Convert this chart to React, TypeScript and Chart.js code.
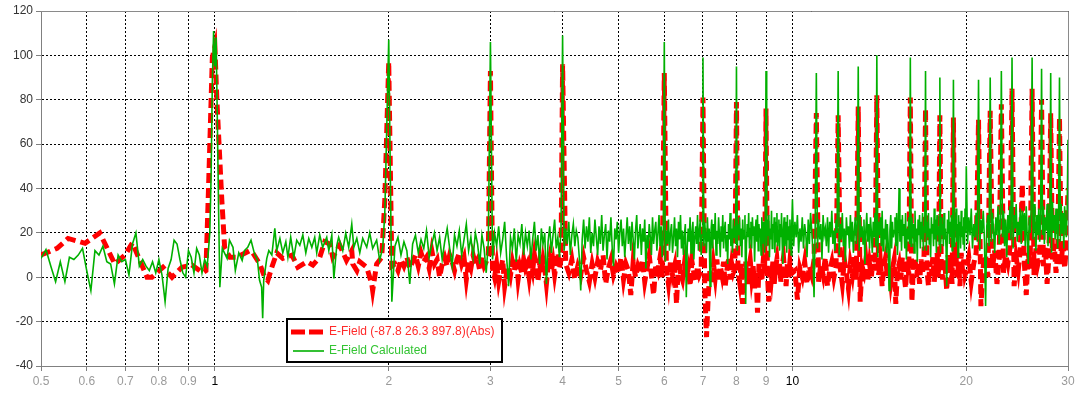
import React, { useEffect, useRef } from "react";
import { Chart, registerables } from "chart.js";

Chart.register(...registerables);

// ---------- axis ticks ----------
const xTickValues = [0.5, 0.6, 0.7, 0.8, 0.9, 1, 2, 3, 4, 5, 6, 7, 8, 9, 10, 20, 30];
const xStrongTicks = [1, 10];
const yMin = -40;
const yMax = 120;
const yStep = 20;

const seriesNames = ["E-Field (-87.8 26.3 897.8)(Abs)", "E-Field Calculated"];

// ---------- measured E-Field (red), 0.5 .. 2 ----------
const redLoFreq = [
  0.5, 0.533, 0.557, 0.596, 0.632, 0.671, 0.699, 0.72, 0.763, 0.778,
  0.813, 0.843, 0.877, 0.912, 0.953, 0.965, 0.975, 0.99, 1.0, 1.008,
  1.028, 1.04, 1.062, 1.092, 1.15, 1.163, 1.196, 1.22, 1.235, 1.255,
  1.28, 1.311, 1.36, 1.392, 1.443, 1.478, 1.519, 1.55, 1.58, 1.6,
  1.645, 1.69, 1.726, 1.733, 1.761, 1.782, 1.832, 1.869, 1.876, 1.906,
  1.945, 1.969,
];
const redLo = [
  10, 13, 17.5, 15.3, 20, 6, 10, 15.5, 0, 0,
  4.5, 0, 4.5, 5.5, 2, 3, 40, 99, 104, 80,
  35, 13, 9, 9, 12, 11, 6, 0, -1.5, 4.5,
  11, 8.5, 10, 4.5, 7, 5.5, 9, 16, 15, 9,
  14.5, 7.6, 12, 6, 3, 7, 4.5, -3, -6, 6,
  9, 35,
];

// ---------- calculated E-Field (green), 0.5 .. 2 ----------
const greenLoFreq = [
  0.5, 0.51, 0.52, 0.53, 0.54, 0.55, 0.56, 0.57, 0.58, 0.59,
  0.6, 0.61, 0.62, 0.63, 0.64, 0.65, 0.66, 0.67, 0.68, 0.69,
  0.7, 0.71, 0.72, 0.73, 0.74, 0.75, 0.76, 0.77, 0.78, 0.79,
  0.8, 0.81, 0.82, 0.83, 0.84, 0.85, 0.86, 0.87, 0.88, 0.89,
  0.9, 0.91, 0.92, 0.93, 0.94, 0.95, 0.96, 0.97, 0.98, 0.985,
  0.99, 0.995, 1.0, 1.005, 1.01, 1.015, 1.02, 1.03, 1.05, 1.06,
  1.075, 1.085, 1.1, 1.115, 1.125, 1.14, 1.155, 1.17, 1.185, 1.195,
  1.205, 1.21, 1.215, 1.23, 1.24, 1.255, 1.27, 1.28, 1.296, 1.311,
  1.327, 1.338, 1.353, 1.37, 1.386, 1.403, 1.42, 1.437, 1.454, 1.472,
  1.489, 1.501, 1.519, 1.537, 1.562, 1.575, 1.594, 1.607, 1.626, 1.638,
  1.665, 1.685, 1.705, 1.726, 1.74, 1.761, 1.782, 1.803, 1.832, 1.854,
  1.876, 1.906, 1.929, 1.953, 1.969,
];
const greenLo = [
  8.5, 12.5, 5, -2, 7, -2, 9, 8, 10, 13,
  3, -6, 12, 10, 14, 7, 6, -3, 10, 7,
  8, 1, 15, 20, 5, 8, 5, 3, 7, 2,
  8, 1, -11, 4, 8, 16.7, 15, 8, 2, 0,
  12, 9, 2, 13, 10, 2, 8, 5, 20, 45,
  88, 111, 95, 108, 70, 30, -4.5, 13, 8.5, 16.7,
  13.5, 3, 11, 7.6, 12, 13.5, 16.7, 11, 7.6, -1.4,
  -4.5, -18.5, -1.4, 8.5, 12, 10, 22, 12, 17.5, 11,
  16, 9, 18, 9, 16.7, 14.4, 19, 11, 17.5, 13.5,
  18, 11, 19, 13.5, 18, 12, 19, -0.5, 14.4, 18,
  12, 19.8, 13.5, 24, 13.5, 17.5, 11, 17.5, 13.5, 20,
  13, 16.7, 7.6, 13.5, 29,
];

// ---------- shared frequency grid, 2 .. 4 ----------
const freqA = [
  2, 2.025, 2.05, 2.075, 2.1, 2.125, 2.15, 2.175, 2.2, 2.225,
  2.25, 2.275, 2.3, 2.325, 2.35, 2.375, 2.4, 2.425, 2.45, 2.475,
  2.5, 2.525, 2.55, 2.575, 2.6, 2.625, 2.65, 2.675, 2.7, 2.725,
  2.75, 2.775, 2.8, 2.825, 2.85, 2.875, 2.9, 2.925, 2.95, 2.975,
  3, 3.025, 3.05, 3.075, 3.1, 3.125, 3.15, 3.175, 3.2, 3.225,
  3.25, 3.275, 3.3, 3.325, 3.35, 3.375, 3.4, 3.425, 3.45, 3.475,
  3.5, 3.525, 3.55, 3.575, 3.6, 3.625, 3.65, 3.675, 3.7, 3.725,
  3.75, 3.775, 3.8, 3.825, 3.85, 3.875, 3.9, 3.925, 3.95, 3.975,
];
const greenA = [
  107, -11, 14, 18, 10, 16, 12, -3, 15, 19,
  11, 17, 13, 21, 9, 15, 20, 12, 18, 8,
  16, 22, 13, 5, 19, 14, 21, 10, 17, 24,
  12, 18, 9, 20, 15, 6, 19, 13, 2, 16,
  106, 8, 20, 14, 23, 11, 17, 25, 9, -4,
  18, 13, 22, 7, 19, 15, 24, 10, 20, 14,
  21, 8, 17, 25, 12, 19, 6, 22, 15, 20,
  -3, 16, 23, 11, 19, 26, 13, 18, 9, 22,
];
const redA = [
  97, 5, 6, 3, 8, 5, 9, 4, 7, 10,
  5, 11, 7, 9, 4, 12, 6, 8, 0, 6,
  9, 5, 10, 7, 3, 8, 11, 6, 9, -1,
  7, 4, 10, 6, 8, 3, 9, 5, 7, 10,
  93, 4, 0, 6, -2, 3, 8, -4, 2, 5,
  1, 7, 3, 9, -1, 5, 2, 8, 4, 6,
  0, 7, 3, 10, 5, -2, 6, 2, 8, 4,
  -3, 5, 9, 3, 7, 1, 6, 11, 4, 8,
];

// ---------- measured (red) grid, 4 .. 30 ----------
const redFreqB = [
  4, 4.05, 4.1, 4.15, 4.2, 4.25, 4.3, 4.35, 4.4, 4.45,
  4.5, 4.55, 4.6, 4.65, 4.7, 4.75, 4.8, 4.85, 4.9, 4.95,
  5, 5.05, 5.1, 5.15, 5.2, 5.25, 5.3, 5.35, 5.4, 5.45,
  5.5, 5.55, 5.6, 5.65, 5.7, 5.75, 5.8, 5.85, 5.9, 5.95,
  6, 6.05, 6.1, 6.15, 6.2, 6.25, 6.3, 6.35, 6.4, 6.45,
  6.5, 6.55, 6.6, 6.65, 6.7, 6.75, 6.8, 6.85, 6.9, 6.95,
];
const redB = [
  96, 6, 2, 8, -1, 5, 1, 9, 3, -2,
  6, 0, 7, 3, 10, -3, 4, 8, 1, 5,
  2, 9, -1, 6, 3, -8, 7, 0, 5, 2,
  8, -2, 4, 10, 1, -8, 6, 3, 9, 0,
  92, 4, -3, 7, 1, 5, -12, 8, 2, -1,
  6, 0, 4, -4, 7, 2, -2, 5, 1, 3,
];
const redFreqC = [
  7, 7.05, 7.1, 7.15, 7.2, 7.25, 7.3, 7.35, 7.4, 7.45,
  7.5, 7.55, 7.6, 7.65, 7.7, 7.75, 7.8, 7.85, 7.9, 7.95,
  8, 8.05, 8.1, 8.15, 8.2, 8.25, 8.3, 8.35, 8.4, 8.45,
  8.5, 8.55, 8.6, 8.65, 8.7, 8.75, 8.8, 8.85, 8.9, 8.95,
  9, 9.05, 9.1, 9.15, 9.2, 9.25, 9.3, 9.35, 9.4, 9.45,
  9.5, 9.55, 9.6, 9.65, 9.7, 9.75, 9.8, 9.85, 9.9, 9.95,
];
const redC = [
  81, -5, -27, -8, 4, -3, 6, 0, 8, -2,
  5, 1, 7, -4, 3, 9, -1, 6, 2, 4,
  79, 3, -2, 6, -12, 1, 7, -3, 4, 8,
  0, 5, -5, 2, -16, 6, 1, -2, 7, 3,
  76, 2, -11, 5, 0, 7, -3, 4, 8, 1,
  6, -2, 5, 9, 2, -4, 6, 0, 7, 3,
];
const redFreqD = [
  10, 10.1, 10.2, 10.3, 10.4, 10.5, 10.6, 10.7, 10.8, 10.9,
  11, 11.1, 11.2, 11.3, 11.4, 11.5, 11.6, 11.7, 11.8, 11.9,
  12, 12.1, 12.2, 12.3, 12.4, 12.5, 12.6, 12.7, 12.8, 12.9,
  13, 13.1, 13.2, 13.3, 13.4, 13.5, 13.6, 13.7, 13.8, 13.9,
  14, 14.1, 14.2, 14.3, 14.4, 14.5, 14.6, 14.7, 14.8, 14.9,
  15, 15.1, 15.2, 15.3, 15.4, 15.5, 15.6, 15.7, 15.8, 15.9,
  16, 16.1, 16.2, 16.3, 16.4, 16.5, 16.6, 16.7, 16.8, 16.9,
  17, 17.1, 17.2, 17.3, 17.4, 17.5, 17.6, 17.7, 17.8, 17.9,
  18, 18.1, 18.2, 18.3, 18.4, 18.5, 18.6, 18.7, 18.8, 18.9,
  19, 19.1, 19.2, 19.3, 19.4, 19.5, 19.6, 19.7, 19.8, 19.9,
];
const redD = [
  2, 3, -10, 4, 0, 7, -3, 5, 1, 8,
  74, -2, 6, 1, 9, -4, 3, 7, 0, 5,
  73, 4, -3, 8, 2, -5, 6, 1, 9, -1,
  77, -11, 5, 2, 8, -2, 6, 0, 10, 3,
  82, 1, 7, -4, 5, 9, 0, 6, -2, 4,
  8, -12, 3, 6, -1, 9, 2, -5, 7, 1,
  81, -11, 5, 9, 0, 6, -3, 8, 2, 10,
  76, 3, -4, 7, 1, 9, -2, 5, 11, 0,
  73, 6, -1, 8, 3, -6, 10, 2, 7, -3,
  72, 5, 9, 0, 7, -4, 11, 3, 8, 1,
];
const redFreqE = [
  20, 20.2, 20.4, 20.6, 20.8, 21, 21.2, 21.4, 21.6, 21.8,
  22, 22.2, 22.4, 22.6, 22.8, 23, 23.2, 23.4, 23.6, 23.8,
  24, 24.2, 24.4, 24.6, 24.8, 25, 25.2, 25.4, 25.6, 25.8,
  26, 26.2, 26.4, 26.6, 26.8, 27, 27.2, 27.4, 27.6, 27.8,
  28, 28.2, 28.4, 28.6, 28.8, 29, 29.2, 29.4, 29.6, 29.8,
  30,
];
const redE = [
  3, 9, -2, 6, 11, 71, -13, 5, 10, 0,
  75, 4, 12, -3, 8, 78, 2, 10, 6, 13,
  85, -4, 9, 3, 12, 42, 7, -8, 11, 4,
  85, 1, 13, 6, 10, 80, 5, 14, -3, 9,
  74, 8, 15, 2, 12, 72, 6, 16, 4, 13,
  40,
];

// ---------- calculated (green) finer grid, 4 .. 30 ----------
const greenFreqB = [
  4, 4.025, 4.05, 4.075, 4.1, 4.125, 4.15, 4.175, 4.2, 4.225, 4.25, 4.275, 4.3, 4.325, 4.35, 4.375, 4.4, 4.425, 4.45, 4.475,
  4.5, 4.525, 4.55, 4.575, 4.6, 4.625, 4.65, 4.675, 4.7, 4.725, 4.75, 4.775, 4.8, 4.825, 4.85, 4.875, 4.9, 4.925, 4.95, 4.975,
  5, 5.025, 5.05, 5.075, 5.1, 5.125, 5.15, 5.175, 5.2, 5.225, 5.25, 5.275, 5.3, 5.325, 5.35, 5.375, 5.4, 5.425, 5.45, 5.475,
  5.5, 5.525, 5.55, 5.575, 5.6, 5.625, 5.65, 5.675, 5.7, 5.725, 5.75, 5.775, 5.8, 5.825, 5.85, 5.875, 5.9, 5.925, 5.95, 5.975,
  6, 6.025, 6.05, 6.075, 6.1, 6.125, 6.15, 6.175, 6.2, 6.225, 6.25, 6.275, 6.3, 6.325, 6.35, 6.375, 6.4, 6.425, 6.45, 6.475,
  6.5, 6.525, 6.55, 6.575, 6.6, 6.625, 6.65, 6.675, 6.7, 6.725, 6.75, 6.775, 6.8, 6.825, 6.85, 6.875, 6.9, 6.925, 6.95, 6.975,
];
const greenB = [
  109, 12, 22, 15, 25, 10, 19, 24, 14, 21, 18, 9, -6, 17, 26, 13, 23, 16, 27, 11,
  20, 14, 26, 18, 10, 23, 15, 28, 12, 19, 24, 8, 21, 16, 27, 13, 5, 22, 17, 25,
  11, 20, 26, 14, 22, 9, 18, 27, 15, 23, 12, 25, 17, 8, 21, 28, 13, 19, 24, 10,
  22, 16, 26, 4, 19, 13, 24, 18, 10, 27, 15, 21, 25, 12, 20, 28, 14, 23, 9, 18,
  106, 7, 21, 15, 26, 12, 20, 24, 11, 18, 27, 14, 22, 9, 25, 17, 28, 13, 21, 10,
  19, 24, -9, 14, 22, 16, 27, 11, 20, 25, 8, 18, 23, 15, 28, 12, 21, 26, 10, 19,
];
const greenFreqC = [
  7, 7.025, 7.05, 7.075, 7.1, 7.125, 7.15, 7.175, 7.2, 7.225, 7.25, 7.275, 7.3, 7.325, 7.35, 7.375, 7.4, 7.425, 7.45, 7.475,
  7.5, 7.525, 7.55, 7.575, 7.6, 7.625, 7.65, 7.675, 7.7, 7.725, 7.75, 7.775, 7.8, 7.825, 7.85, 7.875, 7.9, 7.925, 7.95, 7.975,
  8, 8.025, 8.05, 8.075, 8.1, 8.125, 8.15, 8.175, 8.2, 8.225, 8.25, 8.275, 8.3, 8.325, 8.35, 8.375, 8.4, 8.425, 8.45, 8.475,
  8.5, 8.525, 8.55, 8.575, 8.6, 8.625, 8.65, 8.675, 8.7, 8.725, 8.75, 8.775, 8.8, 8.825, 8.85, 8.875, 8.9, 8.925, 8.95, 8.975,
  9, 9.025, 9.05, 9.075, 9.1, 9.125, 9.15, 9.175, 9.2, 9.225, 9.25, 9.275, 9.3, 9.325, 9.35, 9.375, 9.4, 9.425, 9.45, 9.475,
  9.5, 9.525, 9.55, 9.575, 9.6, 9.625, 9.65, 9.675, 9.7, 9.725, 9.75, 9.775, 9.8, 9.825, 9.85, 9.875, 9.9, 9.925, 9.95, 9.975,
];
const greenC = [
  99, 14, 25, 18, 11, 27, 16, 22, -4, 20, 26, 13, 24, 17, 29, 10, 21, 15, 27, 19,
  9, 23, 16, 28, 13, 21, 25, 12, 19, 6, 24, 17, 29, 14, 22, 11, 26, 18, 23, 15,
  95, 12, 24, 19, 27, 14, 22, 9, 26, 17, 21, 28, -12, 15, 24, 18, 29, 13, 22, 25,
  13, 27, 19, 23, 7, 21, 26, 16, 28, 12, 24, 18, 22, 10, 27, 15, 25, 20, 11, 23,
  93, 14, 26, 19, 28, 9, 22, 17, 30, 13, 24, 20, 27, 11, 25, 16, 29, 14, 21, 26,
  12, 24, 18, 29, 15, 6, 22, 27, 14, 20, 25, 11, 28, 17, 23, 13, 26, 19, 10, 24,
];
const greenFreqD = [
  10, 10.05, 10.1, 10.15, 10.2, 10.25, 10.3, 10.35, 10.4, 10.45, 10.5, 10.55, 10.6, 10.65, 10.7, 10.75, 10.8, 10.85, 10.9, 10.95,
  11, 11.05, 11.1, 11.15, 11.2, 11.25, 11.3, 11.35, 11.4, 11.45, 11.5, 11.55, 11.6, 11.65, 11.7, 11.75, 11.8, 11.85, 11.9, 11.95,
  12, 12.05, 12.1, 12.15, 12.2, 12.25, 12.3, 12.35, 12.4, 12.45, 12.5, 12.55, 12.6, 12.65, 12.7, 12.75, 12.8, 12.85, 12.9, 12.95,
  13, 13.05, 13.1, 13.15, 13.2, 13.25, 13.3, 13.35, 13.4, 13.45, 13.5, 13.55, 13.6, 13.65, 13.7, 13.75, 13.8, 13.85, 13.9, 13.95,
  14, 14.05, 14.1, 14.15, 14.2, 14.25, 14.3, 14.35, 14.4, 14.45, 14.5, 14.55, 14.6, 14.65, 14.7, 14.75, 14.8, 14.85, 14.9, 14.95,
  15, 15.05, 15.1, 15.15, 15.2, 15.25, 15.3, 15.35, 15.4, 15.45, 15.5, 15.55, 15.6, 15.65, 15.7, 15.75, 15.8, 15.85, 15.9, 15.95,
  16, 16.05, 16.1, 16.15, 16.2, 16.25, 16.3, 16.35, 16.4, 16.45, 16.5, 16.55, 16.6, 16.65, 16.7, 16.75, 16.8, 16.85, 16.9, 16.95,
  17, 17.05, 17.1, 17.15, 17.2, 17.25, 17.3, 17.35, 17.4, 17.45, 17.5, 17.55, 17.6, 17.65, 17.7, 17.75, 17.8, 17.85, 17.9, 17.95,
  18, 18.05, 18.1, 18.15, 18.2, 18.25, 18.3, 18.35, 18.4, 18.45, 18.5, 18.55, 18.6, 18.65, 18.7, 18.75, 18.8, 18.85, 18.9, 18.95,
  19, 19.05, 19.1, 19.15, 19.2, 19.25, 19.3, 19.35, 19.4, 19.45, 19.5, 19.55, 19.6, 19.65, 19.7, 19.75, 19.8, 19.85, 19.9, 19.95,
];
const greenD = [
  35, 14, 25, 18, 28, 11, 22, 16, 27, 13, 24, 19, 9, 26, 15, 29, 21, 12, -9, 23,
  92, 13, 26, 17, 24, 8, 28, 19, 22, 14, 27, 11, 25, 18, 30, 15, 21, 12, 26, 20,
  93, 10, 24, 17, 29, 14, 22, 7, 27, 19, 23, 13, 28, 16, 25, 11, 21, 27, 15, 24,
  95, 12, 28, 18, 23, 15, 26, 6, 21, 29, 16, 24, 13, 27, 20, 11, 25, 18, 29, 14,
  100, 9, 25, 19, 27, 14, 30, 12, 22, 17, 26, 11, 24, 15, -6, 21, 28, 13, 25, 18,
  21, 27, 14, 29, 10, 23, 40, 16, 26, 12, 28, 19, 24, 13, 29, 8, 22, 17, 27, 15,
  99, 14, 27, 18, 24, 11, 30, 16, 22, 7, 26, 19, 28, 13, 25, 17, 29, 12, 23, 20,
  93, 12, 25, 18, 29, 15, 22, 9, 27, 20, 24, 14, 31, 17, 26, 11, 28, 19, 23, 15,
  90, 11, 27, 19, 24, 14, 29, 17, 22, 13, -4, 26, 20, 30, 15, 25, 18, 28, 12, 23,
  89, 14, 26, 21, 31, 16, 24, 9, 28, 19, 25, 13, 30, 18, 23, 15, 27, 12, 31, 20,
];
const greenFreqE = [
  20, 20.1, 20.2, 20.3, 20.4, 20.5, 20.6, 20.7, 20.8, 20.9,
  21, 21.1, 21.2, 21.3, 21.4, 21.5, 21.6, 21.7, 21.8, 21.9,
  22, 22.1, 22.2, 22.3, 22.4, 22.5, 22.6, 22.7, 22.8, 22.9,
  23, 23.1, 23.2, 23.3, 23.4, 23.5, 23.6, 23.7, 23.8, 23.9,
  24, 24.1, 24.2, 24.3, 24.4, 24.5, 24.6, 24.7, 24.8, 24.9,
  25, 25.1, 25.2, 25.3, 25.4, 25.5, 25.6, 25.7, 25.8, 25.9,
  26, 26.1, 26.2, 26.3, 26.4, 26.5, 26.6, 26.7, 26.8, 26.9,
  27, 27.1, 27.2, 27.3, 27.4, 27.5, 27.6, 27.7, 27.8, 27.9,
  28, 28.1, 28.2, 28.3, 28.4, 28.5, 28.6, 28.7, 28.8, 28.9,
  29, 29.1, 29.2, 29.3, 29.4, 29.5, 29.6, 29.7, 29.8, 29.9,
  30,
];
const greenE = [
  50, 15, 27, 19, 31, 13, 24, 18, 29, 16,
  89, 12, 26, 20, 30, 17, -13, 23, 28, 14,
  90, 16, 29, 21, 11, 27, 19, 32, 15, 25,
  93, 18, 30, 14, 26, 9, 28, 20, 32, 17,
  99, 13, 28, 22, 33, 16, 25, 19, 31, 15,
  30, 21, 29, 14, 32, 18, 6, 27, 20, 31,
  99, 17, 33, 22, 12, 28, 19, 31, 16, 27,
  94, 19, 32, 15, 27, 21, 33, 14, 29, 18,
  92, 11, 34, 21, 28, 17, 31, 23, 13, 30,
  90, 16, 33, 20, 29, 13, 32, 24, 18, 30,
  62,
];

// ---------- helpers ----------
const zip = (fs: number[], vs: number[]) => fs.map((x, i) => ({ x, y: vs[i] }));

const redPoints = [
  ...zip(redLoFreq, redLo),
  ...zip(freqA, redA),
  ...zip(redFreqB, redB),
  ...zip(redFreqC, redC),
  ...zip(redFreqD, redD),
  ...zip(redFreqE, redE),
];
const greenPoints = [
  ...zip(greenLoFreq, greenLo),
  ...zip(freqA, greenA),
  ...zip(greenFreqB, greenB),
  ...zip(greenFreqC, greenC),
  ...zip(greenFreqD, greenD),
  ...zip(greenFreqE, greenE),
];

const RED = "#ff0000";
const GREEN = "rgb(0,176,0)";
const FONT = "'Liberation Sans', Arial, sans-serif";

const framePlugin = {
  id: "frame",
  beforeDatasetsDraw(chart: any) {
    const { ctx, chartArea } = chart;
    const { left, right, top, bottom } = chartArea;
    ctx.save();
    ctx.strokeStyle = "#8a8a8a";
    ctx.lineWidth = 1;
    ctx.setLineDash([]);
    ctx.beginPath();
    ctx.moveTo(left, Math.round(top) + 0.5);
    ctx.lineTo(Math.round(right) + 0.5, Math.round(top) + 0.5);
    ctx.lineTo(Math.round(right) + 0.5, bottom);
    ctx.stroke();
    ctx.restore();
  },
};

const legendPlugin = {
  id: "boxLegend",
  afterDraw(chart: any) {
    const { ctx, chartArea } = chart;
    const x = chartArea.left + 246;
    const y = chartArea.bottom - 47;
    const w = 215;
    const h = 43;
    ctx.save();
    ctx.fillStyle = "#ffffff";
    ctx.fillRect(x, y, w, h);
    ctx.strokeStyle = "#000000";
    ctx.lineWidth = 2;
    ctx.setLineDash([]);
    ctx.strokeRect(x, y, w, h);
    const r1 = y + 13;
    ctx.strokeStyle = RED;
    ctx.lineWidth = 5;
    ctx.setLineDash([14, 4]);
    ctx.beginPath();
    ctx.moveTo(x + 4, r1);
    ctx.lineTo(x + 36, r1);
    ctx.stroke();
    const r2 = y + 32;
    ctx.strokeStyle = GREEN;
    ctx.lineWidth = 1.6;
    ctx.setLineDash([]);
    ctx.beginPath();
    ctx.moveTo(x + 6, r2);
    ctx.lineTo(x + 37, r2);
    ctx.stroke();
    ctx.font = `12px ${FONT}`;
    ctx.textBaseline = "middle";
    ctx.textAlign = "left";
    ctx.fillStyle = "#ff2a2a";
    ctx.fillText(seriesNames[0], x + 42, r1);
    ctx.fillStyle = "#33c433";
    ctx.fillText(seriesNames[1], x + 42, r2);
    ctx.restore();
  },
};

export default function App() {
  const ref = useRef<HTMLCanvasElement>(null);

  useEffect(() => {
    document.body.style.margin = "0";
    const canvas = ref.current;
    if (!canvas) return;
    const chart = new Chart(canvas, {
      type: "line",
      data: {
        datasets: [
          {
            label: seriesNames[0],
            data: redPoints,
            borderColor: RED,
            backgroundColor: RED,
            borderWidth: 5,
            borderDash: [10, 5],
            pointRadius: 0,
            tension: 0,
            fill: false,
            order: 1,
          },
          {
            label: seriesNames[1],
            data: greenPoints,
            borderColor: GREEN,
            backgroundColor: GREEN,
            borderWidth: 1.6,
            pointRadius: 0,
            tension: 0,
            fill: false,
            order: 0,
          },
        ],
      },
      options: {
        responsive: false,
        animation: false,
        events: [],
        layout: { padding: { top: 11, right: 12, left: 0, bottom: 0 } },
        plugins: { legend: { display: false }, tooltip: { enabled: false } },
        scales: {
          x: {
            type: "logarithmic",
            min: 0.5,
            max: 30,
            afterBuildTicks: (scale: any) => {
              scale.ticks = xTickValues.map((v) => ({ value: v }));
            },
            afterFit: (scale: any) => {
              scale.height = 30;
            },
            ticks: {
              autoSkip: false,
              maxRotation: 0,
              minRotation: 0,
              padding: 3,
              callback: (v: any) => String(v),
              color: (c: any) => (xStrongTicks.includes(c.tick?.value) ? "#000000" : "#9a9a9a"),
              font: { family: FONT, size: 12 },
            },
            grid: {
              color: "#000000",
              lineWidth: 1,
              tickColor: "#808080",
              tickLength: 5,
              tickBorderDash: [],
            },
            border: { color: "#808080", width: 1, dash: [2, 2] },
          },
          y: {
            type: "linear",
            min: yMin,
            max: yMax,
            afterFit: (scale: any) => {
              scale.width = 41;
            },
            ticks: {
              stepSize: yStep,
              padding: 3,
              color: "#333333",
              font: { family: FONT, size: 12 },
            },
            grid: {
              color: "#000000",
              lineWidth: 1,
              tickColor: "#808080",
              tickLength: 5,
              tickBorderDash: [],
            },
            border: { color: "#808080", width: 1, dash: [2, 2] },
          },
        },
      } as any,
      plugins: [framePlugin, legendPlugin],
    });
    return () => chart.destroy();
  }, []);

  return (
    <div style={{ width: 1080, height: 396 }}>
      <canvas ref={ref} width={1080} height={396} style={{ display: "block" }} />
    </div>
  );
}
